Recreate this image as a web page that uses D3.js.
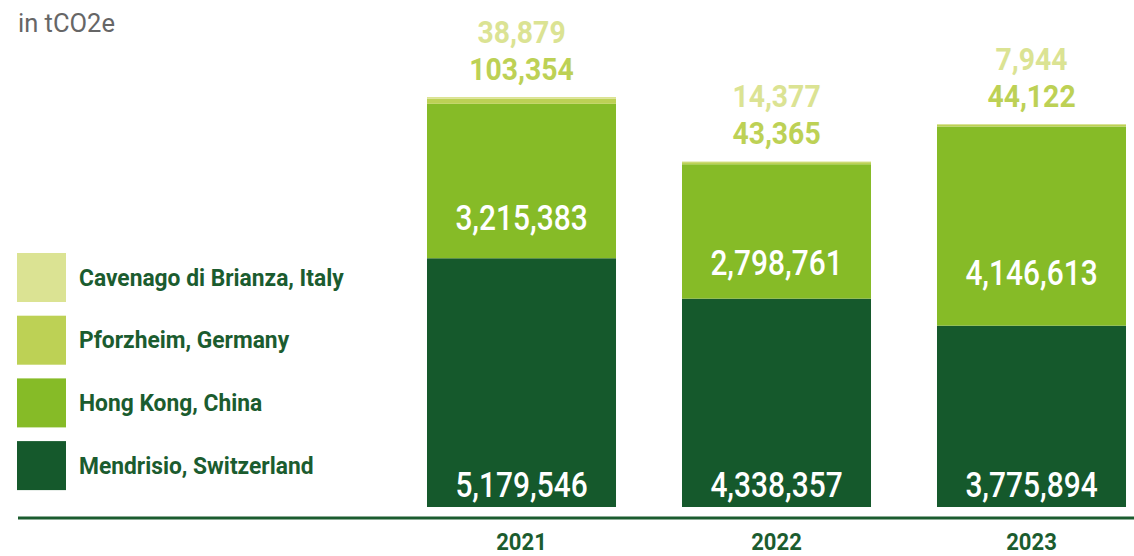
<!DOCTYPE html>
<html>
<head>
<meta charset="utf-8">
<script src="https://cdn.jsdelivr.net/npm/d3@7"></script>
<style>
  html, body { margin: 0; padding: 0; background: #ffffff; }
  svg { display: block; }
</style>
</head>
<body>
<svg id="chart" width="1134" height="556"></svg>
<script>
// ---- data ----
const years = ["2021", "2022", "2023"];
const seriesNames = ["Mendrisio, Switzerland", "Hong Kong, China", "Pforzheim, Germany", "Cavenago di Brianza, Italy"];
const mendrisio = [5179546, 4338357, 3775894];
const hongKong  = [3215383, 2798761, 4146613];
const pforzheim = [103354, 43365, 44122];
const cavenago  = [38879, 14377, 7944];
const unitLabel = "in tCO2e";

// ---- styles ----
const colors = ["#15592c", "#86bb27", "#bdd155", "#dbe393"];
const textGreen = "#1b5c2f";
const numFont = "Roboto, 'Noto Sans', sans-serif";

const seriesValues = [mendrisio, hongKong, pforzheim, cavenago];
const rows = years.map((y, i) => {
  const r = { year: y };
  seriesNames.forEach((s, j) => r[s] = seriesValues[j][i]);
  return r;
});
const stacked = d3.stack().keys(seriesNames)(rows);

const svg = d3.select("#chart");

const x = d3.scaleBand().domain(years).range([394, 1159]).paddingInner(0.2588).paddingOuter(0.1294);
const maxTotal = d3.max(rows, r => d3.sum(seriesNames, s => r[s]));
const y = d3.scaleLinear().domain([0, maxTotal]).range([507, 97]);

// bars
svg.append("g").selectAll("g").data(stacked).join("g")
  .attr("fill", (d, i) => colors[i])
  .selectAll("rect").data(d => d).join("rect")
  .attr("x", d => x(d.data.year))
  .attr("width", x.bandwidth())
  .attr("y", d => y(d[1]))
  .attr("height", d => y(d[0]) - y(d[1]));

const fmt = d3.format(",");

function numText(g, xc, yb, txt, size, weight, fill, sx) {
  g.append("text")
    .attr("transform", `translate(${xc},${yb}) scale(${sx},1)`)
    .attr("text-anchor", "middle")
    .attr("font-family", numFont)
    .attr("font-size", size)
    .attr("font-weight", weight)
    .attr("fill", fill)
    .text(txt);
}

const labels = svg.append("g");
years.forEach((yr, i) => {
  const cx = x(yr) + x.bandwidth() / 2;
  // Mendrisio label at bottom of bar
  numText(labels, cx, y(0) - 10.5, fmt(mendrisio[i]), 36, 500, "#ffffff", 0.83);
  // Hong Kong label inside its segment
  const hkCenter = y(mendrisio[i] + hongKong[i] * 0.27);
  numText(labels, cx, hkCenter + 13, fmt(hongKong[i]), 36, 500, "#ffffff", 0.83);
  // top labels
  const total = mendrisio[i] + hongKong[i] + pforzheim[i] + cavenago[i];
  const pfBase = y(total) - 17;
  numText(labels, cx, pfBase, fmt(pforzheim[i]), 31.5, 700, colors[2], 0.9);
  numText(labels, cx, pfBase - 37, fmt(cavenago[i]), 31.5, 700, colors[3], 0.9);
  // year labels
  numText(labels, cx, 549.5, yr, 24, 700, textGreen, 0.92);
});

// baseline
svg.append("line")
  .attr("x1", 18).attr("x2", 1134)
  .attr("y1", 518).attr("y2", 518)
  .attr("stroke", textGreen).attr("stroke-width", 2.8);

// unit label
svg.append("text")
  .attr("x", 18).attr("y", 32)
  .attr("font-family", "Roboto, sans-serif")
  .attr("font-size", 25.5)
  .attr("fill", "#666666")
  .text(unitLabel);

// legend (top to bottom: Cavenago, Pforzheim, Hong Kong, Mendrisio)
const legendOrder = [3, 2, 1, 0];
const legend = svg.append("g");
legendOrder.forEach((si, k) => {
  const ly = 253 + k * 62.7;
  legend.append("rect")
    .attr("x", 17).attr("y", ly)
    .attr("width", 49).attr("height", 49)
    .attr("fill", colors[si]);
  legend.append("text")
    .attr("transform", `translate(79,${ly + 32.5}) scale(0.97,1)`)
    .attr("font-family", "Roboto, sans-serif")
    .attr("font-size", 23.5)
    .attr("font-weight", 700)
    .attr("fill", textGreen)
    .text(seriesNames[si]);
});
</script>
</body>
</html>
